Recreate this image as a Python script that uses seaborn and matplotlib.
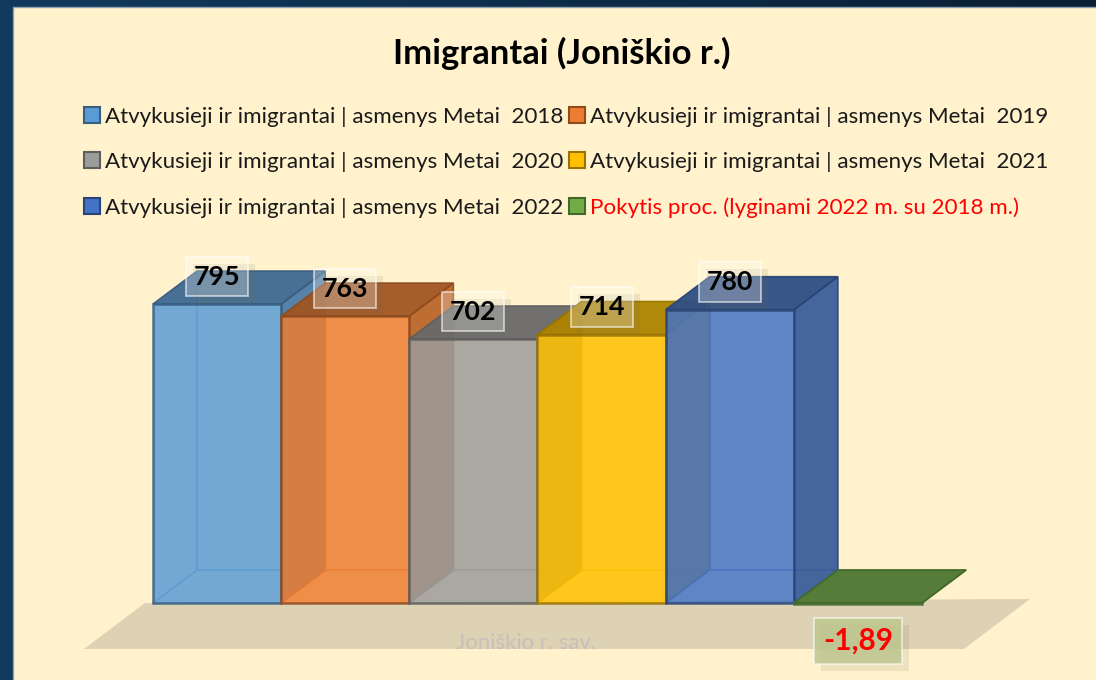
import matplotlib
matplotlib.use("Agg")
import matplotlib.pyplot as plt
import matplotlib.patheffects as pe
from matplotlib.colors import LinearSegmentedColormap, to_rgb
from matplotlib.patches import Patch, Polygon, Rectangle
import numpy as np
import seaborn as sns

# Data
categories = ["2018", "2019", "2020", "2021", "2022", "Pokytis"]
values = [795, 763, 702, 714, 780, -1.89]
value_labels = ["795", "763", "702", "714", "780", "-1,89"]
legend_labels = [
    "Atvykusieji ir imigrantai | asmenys Metai  2018",
    "Atvykusieji ir imigrantai | asmenys Metai  2019",
    "Atvykusieji ir imigrantai | asmenys Metai  2020",
    "Atvykusieji ir imigrantai | asmenys Metai  2021",
    "Atvykusieji ir imigrantai | asmenys Metai  2022",
    "Pokytis proc. (lyginami 2022 m. su 2018 m.)",
]
colors = ["#5B9BD5", "#ED7D31", "#9B9B9A", "#FFC000", "#4472C4", "#70AD47"]

W, H = 1096, 680
CREAM = "#FFF2CC"
ALPHA = 0.85
Y_MAX = 1000
DEPTH_X = 44 / (769 / 6)  # bar depth, in category units
DEPTH_Y = 33 / (376 / Y_MAX)  # bar depth, in value units


def shade(color, k):
    return tuple(c * k for c in to_rgb(color))


sns.set_theme(style="white")
plt.rcParams["font.family"] = ["Lato", "DejaVu Sans"]

fig = plt.figure(figsize=(W / 100, H / 100), dpi=100)

# Dark slide background and the cream panel
bg = fig.add_axes([0, 0, 1, 1], zorder=-5)
bg.imshow(np.linspace(0, 1, 256).reshape(1, -1), aspect="auto", extent=(0, W, H, 0),
          cmap=LinearSegmentedColormap.from_list("bg", ["#123A5E", "#0A1F34"]))
bg.add_patch(Rectangle((13, 7), W, H, facecolor=CREAM, edgecolor="#8FA3B3", linewidth=1))
# Floor of the 3D chart
bg.add_patch(Polygon([(145, 603), (1030, 599), (964, 649), (84, 649)], closed=True,
                     facecolor="#DED2B5", edgecolor="none"))
bg.set_xlim(0, W)
bg.set_ylim(H, 0)
bg.axis("off")

ax = fig.add_axes([153 / W, (H - 603) / H, 769 / W, 376 / H])
ax.patch.set_alpha(0)
sns.barplot(x=categories, y=values, hue=categories, palette=colors, width=1, dodge=False,
            saturation=1, alpha=ALPHA, legend=False, ax=ax)
ax.set_xlim(-0.5, 5.5)
ax.set_ylim(0, Y_MAX)
ax.axis("off")

bars = [c[0] for c in ax.containers]
for i, bar in enumerate(bars):
    x0, w = bar.get_x(), bar.get_width()
    x1 = x0 + w
    y1 = max(bar.get_y() + bar.get_height(), bar.get_y())
    y0 = 0
    color = colors[i]
    edge = shade(color, 0.6)
    z = 3 + i * 4
    dx, dy = DEPTH_X, DEPTH_Y

    # Back edges seen through the front face
    ax.plot([x0, x0 + dx, x1 + dx], [y0, y0 + dy, y0 + dy], color=shade(color, 0.85),
            lw=1.2, alpha=0.7, zorder=z, clip_on=False)
    ax.plot([x0 + dx, x0 + dx], [y0 + dy, y1 + dy], color=shade(color, 0.85),
            lw=1.2, alpha=0.7, zorder=z, clip_on=False)

    # Right side and top
    ax.add_patch(Polygon([(x1, y0), (x1 + dx, y0 + dy), (x1 + dx, y1 + dy), (x1, y1)],
                         closed=True, facecolor=shade(color, 0.78), edgecolor=edge, alpha=0.92,
                         lw=1.2, zorder=z + 1, clip_on=False))
    ax.add_patch(Polygon([(x0, y1), (x0 + dx, y1 + dy), (x1 + dx, y1 + dy), (x1, y1)],
                         closed=True, facecolor=shade(color, 0.68), edgecolor=edge, alpha=0.95,
                         lw=1.2, zorder=z + 1, clip_on=False))

    bar.set_zorder(z + 2)
    bar.set_edgecolor(edge + (1,))
    bar.set_linewidth(1.8)
    bar.set_clip_on(False)

    # Value label with its pale box, sitting over the bar top
    negative = values[i] < 0
    ty = -38 if negative else 27.5
    t = ax.annotate(value_labels[i], (x0 + w / 2, y1), xytext=(0, ty * 0.72),
                    textcoords="offset points", ha="center", va="center",
                    fontsize=21.5 if negative else 19.3, fontweight="bold",
                    color="#FF0000" if negative else "black", zorder=40,
                    annotation_clip=False,
                    bbox=dict(boxstyle="square,pad=0.29", linewidth=1.4,
                              facecolor=(0.74, 0.78, 0.56, 0.85) if negative else (1, 1, 1, 0.25),
                              edgecolor=(1, 1, 1, 0.55)))
    t.get_bbox_patch().set_path_effects(
        [pe.SimplePatchShadow(offset=(5, -5), shadow_rgbFace="#6b6b5a", alpha=0.12), pe.Normal()])

fig.text(526 / W, 1 - 643 / H, "Joniškio r. sav.", ha="center", va="center",
         fontsize=15.9, color="#C6C1B8")

fig.text(561.5 / W, 1 - 53 / H, "Imigrantai (Joniškio r.)", ha="center", va="center",
         fontsize=24.9, fontweight="bold", color="black")

# Legend fills column by column, so reorder to get the rows of the reference
handles = [Patch(facecolor=c, edgecolor=shade(c, 0.6), linewidth=1.5, alpha=None) for c in colors]
order = [0, 2, 4, 1, 3, 5]
leg = fig.legend([handles[i] for i in order], [legend_labels[i] for i in order],
                 ncol=2, frameon=False, loc="upper left",
                 bbox_to_anchor=(84 / W, 1 - 107 / H), borderaxespad=0, borderpad=0,
                 fontsize=16.1, handlelength=0.72, handleheight=0.72, handletextpad=0.2,
                 columnspacing=0.27, labelspacing=1.13)
for text, i in zip(leg.get_texts(), order):
    text.set_color("#FF0000" if i == 5 else "#1A1A1A")

fig.savefig("out.png", dpi=100)
